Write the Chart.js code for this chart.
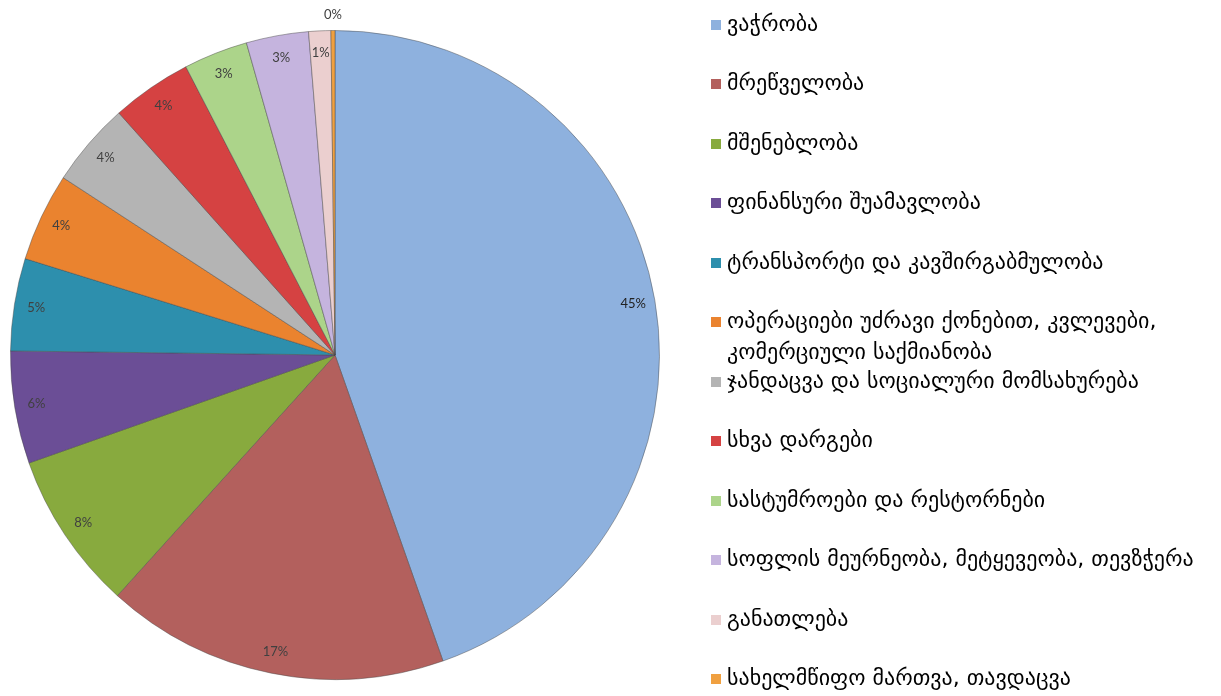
<!DOCTYPE html>
<html>
<head>
<meta charset="utf-8">
<script src="https://cdn.jsdelivr.net/npm/chart.js@4.4.1/dist/chart.umd.min.js"></script>
<style>
  html, body { margin: 0; padding: 0; background: #fff; }
  #wrap { position: relative; width: 1221px; height: 696px; overflow: hidden; }
  #legend { position: absolute; left: 0; top: 0; }
  .item { position: absolute; left: 711px; width: 500px; font-family: "DejaVu Sans", sans-serif;
          font-size: 22px; line-height: 31px; color: #000; }
  .item i { position: absolute; left: 0; top: 12px; width: 10px; height: 10px; }
  .item span { display: block; margin-left: 16px; }
</style>
</head>
<body>
<div id="wrap">
  <canvas id="myChart" width="1221" height="696"></canvas>
  <div id="legend"></div>
</div>
<script>
// Sectors
const labels = [
  'ვაჭრობა',
  'მრეწველობა',
  'მშენებლობა',
  'ფინანსური შუამავლობა',
  'ტრანსპორტი და კავშირგაბმულობა',
  'ოპერაციები უძრავი ქონებით, კვლევები, კომერციული საქმიანობა',
  'ჯანდაცვა და სოციალური მომსახურება',
  'სხვა დარგები',
  'სასტუმროები და რესტორნები',
  'სოფლის მეურნეობა, მეტყევეობა, თევზჭერა',
  'განათლება',
  'სახელმწიფო მართვა, თავდაცვა',
];

// share of each sector, %
const values = [44.6, 17.1, 7.9, 5.6, 4.6, 4.4, 4.2, 4.0, 3.2, 3.1, 1.1, 0.2];

const colors = [
  '#8eb1de',
  '#b3605d',
  '#88aa3e',
  '#6b4e96',
  '#2d8fad',
  '#ea832f',
  '#b4b4b4',
  '#d54242',
  '#acd48a',
  '#c5b4de',
  '#ebcfcf',
  '#f0a040',
];

// Legend
let legend = document.getElementById('legend');
labels.forEach(function (label, i) {
  let item = document.createElement('div');
  item.className = 'item';
  item.style.top = (23 + i * 59.5 - 15.5) + 'px';
  item.innerHTML = '<i style="background:' + colors[i] + '"></i><span>' + label + '</span>';
  legend.appendChild(item);
});

// Percent labels
const pctLabels = {
  id: 'pctLabels',
  afterDatasetsDraw(chart) {
    const ctx = chart.ctx;
    const total = values.reduce((a, b) => a + b, 0);
    ctx.save();
    ctx.font = '13px Lato, "Open Sans", sans-serif';
    ctx.textAlign = 'center';
    ctx.textBaseline = 'middle';
    chart.getDatasetMeta(0).data.forEach(function (arc, i) {
      const p = arc.getProps(['x', 'y', 'startAngle', 'endAngle', 'outerRadius'], true);
      const pct = Math.round(values[i] / total * 100);
      const a = (p.startAngle + p.endAngle) / 2;
      const r = pct < 1 ? p.outerRadius + 16 : p.outerRadius - 22;
      ctx.fillStyle = i === 0 ? '#222' : '#404040';
      ctx.fillText(pct + '%', p.x + Math.cos(a) * r, p.y + Math.sin(a) * r);
    });
    ctx.restore();
  },
};

const config = {
  type: 'pie',
  data: {
    labels: labels,
    datasets: [
      {
        data: values,
        backgroundColor: colors,
        borderColor: 'rgba(70,70,70,0.45)',
        borderWidth: 1,
      },
    ],
  },
  options: {
    responsive: false,
    animation: false,
    layout: { padding: { left: 10, top: 30, right: 561, bottom: 16 } },
    plugins: {
      legend: { display: false },
      tooltip: { enabled: false },
    },
  },
  plugins: [pctLabels],
};

const myChart = new Chart(document.getElementById('myChart'), config);
</script>
</body>
</html>
